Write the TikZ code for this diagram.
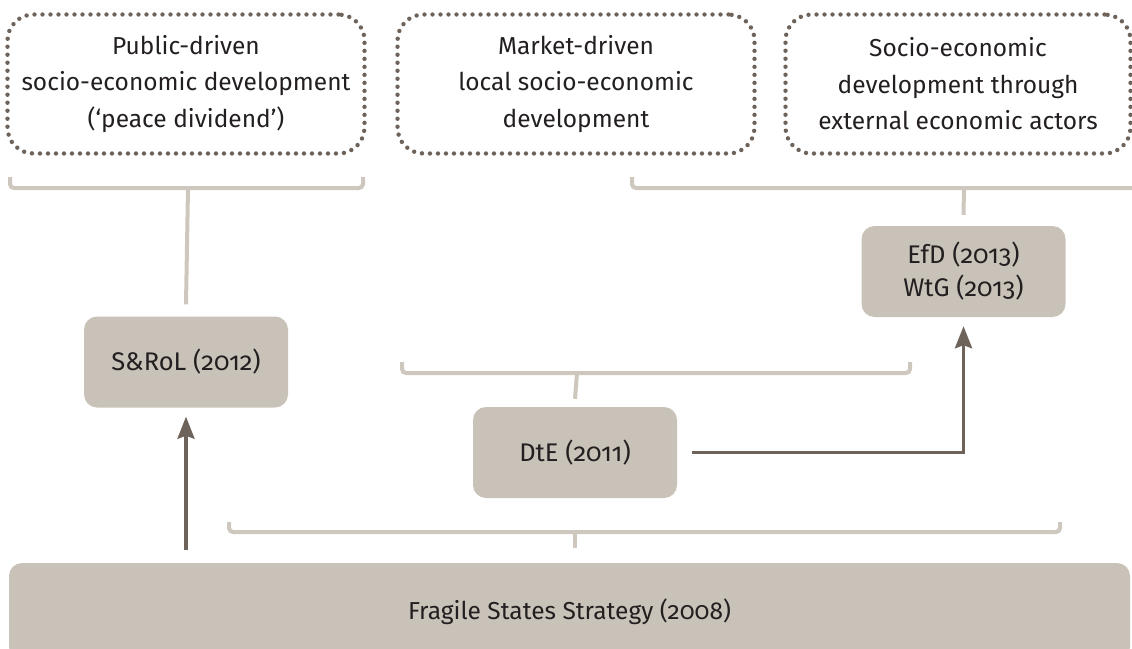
\documentclass[tikz,border=0pt]{standalone}
\usepackage{fontspec}
\setmainfont{Fira Sans}[Numbers=OldStyle]
\usetikzlibrary{arrows.meta}
\definecolor{boxgray}{HTML}{C9C2B8}
\definecolor{bracegray}{HTML}{CEC7BD}
\definecolor{arrowbrown}{HTML}{6E635B}
\definecolor{textdark}{HTML}{231F20}
\tikzset{
	goalbox/.style={draw=arrowbrown, line width=4.4pt, dash pattern=on 0pt off 8pt, line cap=round, rounded corners=26pt, align=center, text=textdark, font=\fontsize{24.5}{36.5}\selectfont, minimum height=139pt},
	policybox/.style={fill=boxgray, rounded corners=13pt, align=center, text=textdark, font=\fontsize{25.5}{33}\selectfont, minimum width=204pt, minimum height=91pt},
	brace/.style={draw=bracegray, line width=4pt, rounded corners=4pt},
	arr/.style={draw=arrowbrown, line width=3.5pt, -{Stealth[length=22pt,width=17pt,inset=3pt]}}
}
\begin{document}
\begin{tikzpicture}[x=1pt,y=-1pt]
		\useasboundingbox (0,0) rectangle (1132,648);

		% goals
		\node[goalbox, minimum width=357pt] (public) at (186,84) {Public-driven\\socio-economic development\\(`peace dividend')};
		\node[goalbox, minimum width=357pt] (market) at (576,84) {Market-driven\\local socio-economic\\development};
		\node[goalbox, minimum width=345pt] (external) at (958,84) {Socio-economic\\development through\\external economic actors};

		% policies
		\node[policybox] (srol) at (186,362) {S\&RoL (2012)};
		\node[policybox] (efd) at (963.5,271.5) {EfD (2013)\\WtG (2013)};
		\node[policybox] (dte) at (575,452.5) {DtE (2011)};
		\node[policybox, font=\fontsize{24.5}{33}\selectfont, minimum width=1121pt, minimum height=97pt] (fragile) at (569.5,611.5) {Fragile States Strategy (2008)};

		% brackets
		\draw[brace] (10,177) -- (10,188) -- (363,188) -- (363,177);
		\draw[brace] (188,188) -- ([yshift=12pt]srol.north);
		\draw[brace] (632,177) -- (632,188) -- (1140,188);
		\draw[brace] (964,188) -- ([yshift=11pt]efd.north);
		\draw[brace] (402,362) -- (402,373) -- (910,373) -- (910,362);
		\draw[brace] (577,373) -- ([yshift=8pt]dte.north);
		\draw[brace] (229,522) -- (229,532) -- (1060,532) -- (1060,522);
		\draw[brace] (575,532) -- ([yshift=15pt]fragile.north -| 575,0);

		% arrows
		\draw[arr] ([yshift=13pt]fragile.north -| srol.south) -- ([yshift=-9pt]srol.south);
		\draw[arr] ([xshift=15pt]dte.east) -| ([yshift=-9pt]efd.south);
	\end{tikzpicture}
\end{document}
